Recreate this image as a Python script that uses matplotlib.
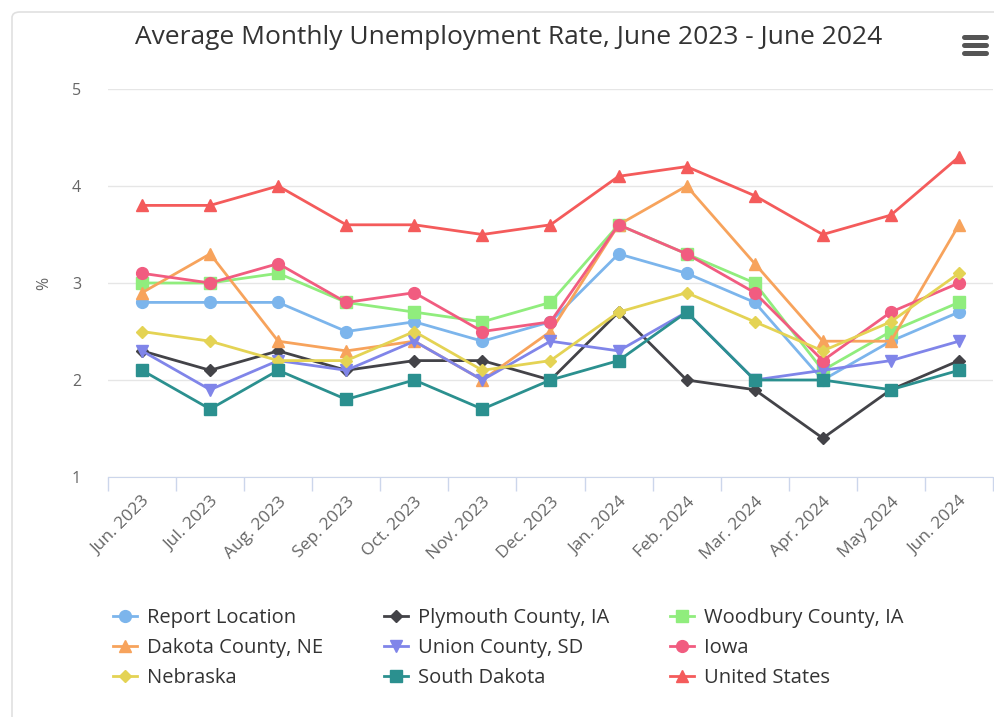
import matplotlib
matplotlib.use("Agg")
import matplotlib.pyplot as plt
from matplotlib.patches import FancyBboxPatch
from matplotlib.lines import Line2D

months = ["Jun. 2023", "Jul. 2023", "Aug. 2023", "Sep. 2023", "Oct. 2023",
          "Nov. 2023", "Dec. 2023", "Jan. 2024", "Feb. 2024", "Mar. 2024",
          "Apr. 2024", "May 2024", "Jun. 2024"]

report_location = [2.8, 2.8, 2.8, 2.5, 2.6, 2.4, 2.6, 3.3, 3.1, 2.8, 2.0, 2.4, 2.7]
plymouth = [2.3, 2.1, 2.3, 2.1, 2.2, 2.2, 2.0, 2.7, 2.0, 1.9, 1.4, 1.9, 2.2]
woodbury = [3.0, 3.0, 3.1, 2.8, 2.7, 2.6, 2.8, 3.6, 3.3, 3.0, 2.1, 2.5, 2.8]
dakota = [2.9, 3.3, 2.4, 2.3, 2.4, 2.0, 2.5, 3.6, 4.0, 3.2, 2.4, 2.4, 3.6]
union = [2.3, 1.9, 2.2, 2.1, 2.4, 2.0, 2.4, 2.3, 2.7, 2.0, 2.1, 2.2, 2.4]
iowa = [3.1, 3.0, 3.2, 2.8, 2.9, 2.5, 2.6, 3.6, 3.3, 2.9, 2.2, 2.7, 3.0]
nebraska = [2.5, 2.4, 2.2, 2.2, 2.5, 2.1, 2.2, 2.7, 2.9, 2.6, 2.3, 2.6, 3.1]
south_dakota = [2.1, 1.7, 2.1, 1.8, 2.0, 1.7, 2.0, 2.2, 2.7, 2.0, 2.0, 1.9, 2.1]
united_states = [3.8, 3.8, 4.0, 3.6, 3.6, 3.5, 3.6, 4.1, 4.2, 3.9, 3.5, 3.7, 4.3]

series = [
    ("Report Location", report_location, "#7cb5ec", "o", 8.5),
    ("Plymouth County, IA", plymouth, "#434348", "D", 6.5),
    ("Woodbury County, IA", woodbury, "#90ed7d", "s", 8),
    ("Dakota County, NE", dakota, "#f7a35c", "^", 8.5),
    ("Union County, SD", union, "#8085e9", "v", 8.5),
    ("Iowa", iowa, "#f15c80", "o", 8.5),
    ("Nebraska", nebraska, "#e4d354", "D", 6.5),
    ("South Dakota", south_dakota, "#2b908f", "s", 8),
    ("United States", united_states, "#f45b5b", "^", 8.5),
]

plt.rcParams["font.family"] = ["Open Sans", "DejaVu Sans"]

fig = plt.figure(figsize=(9.95, 7.17), dpi=100)
fig.patch.set_facecolor("white")

# card border
fig.patches.append(FancyBboxPatch((12 / 995, -0.05), 1.2, 1.05 - 12 / 717,
                                  boxstyle="round,pad=0,rounding_size=0.008",
                                  transform=fig.transFigure, facecolor="none",
                                  edgecolor="#e0e0e0", linewidth=1.2))

ax = fig.add_axes([108 / 995, 1 - 477 / 717, (993 - 108) / 995, (477 - 89) / 717])

x = list(range(len(months)))
handles = []
for name, vals, color, marker, ms in series:
    h, = ax.plot(x, vals, color=color, marker=marker, markersize=ms,
                 linewidth=2, label=name)
    handles.append(h)

ax.set_xlim(-0.5, len(months) - 0.5)
ax.set_ylim(1, 5)
ax.set_yticks([1, 2, 3, 4, 5])
ax.set_xticks(x)
ax.set_xticklabels(months, rotation=45, ha="right", rotation_mode="anchor",
                   fontsize=12.5, color="#666666")
ax.set_xticks([i - 0.5 for i in range(len(months) + 1)], minor=True)
ax.tick_params(axis="x", which="major", length=0, pad=12)
ax.tick_params(axis="x", which="minor", length=10, color="#ccd6eb", width=1)
ax.tick_params(axis="y", length=0, labelsize=11.5, labelcolor="#666666")
for lbl in ax.get_yticklabels():
    lbl.set_horizontalalignment("left")
ax.yaxis.set_tick_params(pad=26)

ax.grid(axis="y", color="#e6e6e6", linewidth=1)
ax.set_axisbelow(True)
for side in ("top", "right", "left"):
    ax.spines[side].set_visible(False)
ax.spines["bottom"].set_color("#ccd6eb")
ax.set_ylabel("%", fontsize=11.5, color="#666666", labelpad=14)

fig.text(509 / 995, 1 - 37 / 717, "Average Monthly Unemployment Rate, June 2023 - June 2024",
         ha="center", va="center", fontsize=19, color="#333333")

# menu icon
for yy in (37, 45, 53):
    fig.add_artist(Line2D([964 / 995, 986 / 995], [1 - yy / 717, 1 - yy / 717],
                          color="#555555", linewidth=3.6, solid_capstyle="round"))

order = [0, 3, 6, 1, 4, 7, 2, 5, 8]
fig.legend([handles[i] for i in order], [series[i][0] for i in order],
           loc="center left", bbox_to_anchor=(95 / 995, 1 - 648 / 717),
           ncol=3, frameon=False, fontsize=14.5, labelcolor="#333333",
           handlelength=1.2, handletextpad=0.5, columnspacing=3.0,
           labelspacing=0.5)

fig.savefig("out.png", dpi=100)
